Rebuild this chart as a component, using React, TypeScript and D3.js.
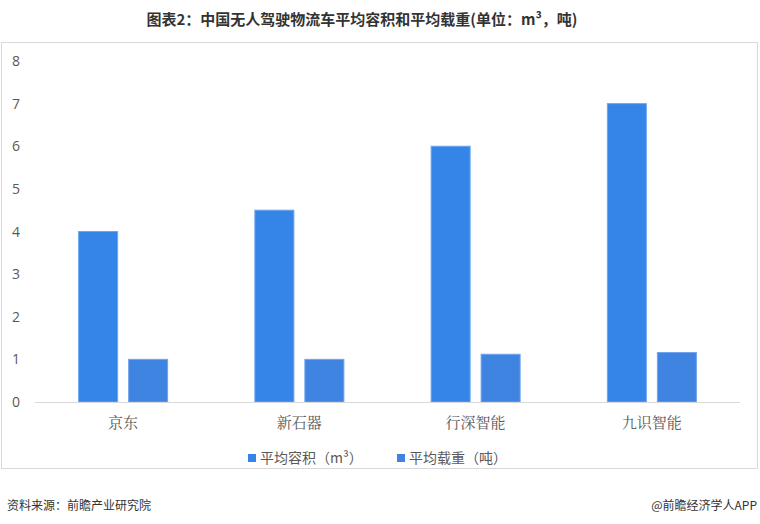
import React from "react";
import * as d3 from "d3";

const categories = ["京东", "新石器", "行深智能", "九识智能"];
const seriesNames = ["平均容积（m³）", "平均载重（吨）"];
const volume = [4, 4.5, 6, 7];
const weight = [1, 1, 1.12, 1.16];
const yTicks = [0, 1, 2, 3, 4, 5, 6, 7, 8];
const colors = ["#3584E8", "#3F84E0"];
const strokes = ["#6AA6F2", "#6FA3EC"];

export default function App() {
  const W = 760, H = 524;
  const left = 35, right = 740, top = 61, bottom = 402;
  const x0 = d3.scaleBand<string>().domain(categories).range([left, right]).paddingInner(0).paddingOuter(0);
  const y = d3.scaleLinear().domain([0, 8]).range([bottom, top]);
  const barW = 39, gap = 11;
  const series = [volume, weight];
  return (
    <svg width={W} height={H} style={{ position: "absolute", left: 0, top: 0, background: "#fff" }}
      fontFamily="'Microsoft YaHei','Noto Sans CJK SC',sans-serif">
      <text x={362} y={25} textAnchor="middle" fontSize={15} fontWeight="bold" fill="#333">
        图表2：中国无人驾驶物流车平均容积和平均载重(单位：m³，吨)
      </text>
      <rect x={1.5} y={42.5} width={756} height={426} fill="none" stroke="#d9d9d9" />
      {yTicks.map((t) => (
        <text key={t} x={16} y={y(t) + 5} textAnchor="middle" fontSize={14} fill="#595959"
          fontFamily="'Open Sans','Noto Sans',sans-serif">{t}</text>
      ))}
      {categories.map((c, i) => {
        const cx = (x0(c) as number) + x0.bandwidth() / 2;
        return (
          <g key={c}>
            {series.map((s, j) => {
              const bx = cx - (barW * 2 + gap) / 2 + j * (barW + gap);
              return (
                <rect key={j} x={bx} y={y(s[i])} width={barW} height={y(0) - y(s[i])}
                  fill={colors[j]} stroke={strokes[j]} strokeWidth={1} />
              );
            })}
            <text x={cx} y={428} textAnchor="middle" fontSize={15} fill="#595959"
              fontFamily="'Noto Serif CJK SC','Noto Sans CJK SC',serif">{c}</text>
          </g>
        );
      })}
      <line x1={left} x2={right} y1={bottom + 0.5} y2={bottom + 0.5} stroke="#d9d9d9" strokeWidth={1} />
      {seriesNames.map((n, j) => {
        const lx = j === 0 ? 248 : 397;
        return (
          <g key={n}>
            <rect x={lx} y={454} width={8} height={8} fill={colors[j]} />
            <text x={lx + 12} y={463} fontSize={14} fill="#595959">{n}</text>
          </g>
        );
      })}
      <text x={7} y={510} fontSize={12} fill="#333">资料来源：前瞻产业研究院</text>
      <text x={757} y={510} fontSize={12} fill="#333" textAnchor="end">@前瞻经济学人APP</text>
    </svg>
  );
}
